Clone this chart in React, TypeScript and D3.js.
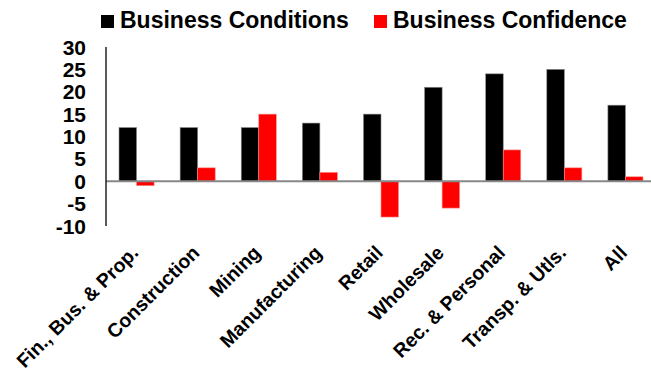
import React from "react";
import * as d3 from "d3";

const categories = [
  "Fin., Bus. & Prop.",
  "Construction",
  "Mining",
  "Manufacturing",
  "Retail",
  "Wholesale",
  "Rec. & Personal",
  "Transp. & Utls.",
  "All",
];
const seriesNames = ["Business Conditions", "Business Confidence"];
const conditions = [12, 12, 12, 13, 15, 21, 24, 25, 17];
const confidence = [-1, 3, 15, 2, -8, -6, 7, 3, 1];
const yTicks = [30, 25, 20, 15, 10, 5, 0, -5, -10];
const colors = ["#000000", "#ff0000"];

const W = 651;
const H = 374;
const FONT = "'Liberation Sans', Arial, Helvetica, sans-serif";

export default function App() {
  const x = d3.scaleBand<string>().domain(categories).range([106, 656]).padding(0);
  const y = d3.scaleLinear().domain([-10, 30]).range([226, 47]);
  const bw = x.bandwidth();
  const barW = bw * 0.287;
  const values = [conditions, confidence];

  return (
    <svg
      width={W}
      height={H}
      style={{ position: "absolute", left: 0, top: 0, background: "#fff" }}
      fontFamily={FONT}
    >
      <rect x={0} y={0} width={W} height={H} fill="#fff" />
      {/* bars */}
      {categories.map((c, i) => {
        const cx = (x(c) as number) + bw / 2;
        const x1 = d3.scaleBand<string>().domain(seriesNames).range([cx - barW, cx + barW]);
        return (
          <g key={c}>
            {seriesNames.map((s, si) => {
              const v = values[si][i];
              const y0 = y(0);
              const yv = y(v);
              return (
                <rect
                  key={s}
                  x={x1(s)}
                  y={Math.min(y0, yv)}
                  width={x1.bandwidth()}
                  height={Math.abs(yv - y0)}
                  fill={colors[si]}
                  stroke={si === 0 ? "#8a8a8a" : "#ff9090"}
                  strokeWidth={0.6}
                />
              );
            })}
          </g>
        );
      })}
      {/* zero line */}
      <line x1={106} x2={656} y1={y(0)} y2={y(0)} stroke="#888" strokeWidth={2} />
      {/* y axis */}
      <line x1={106} x2={106} y1={y(30)} y2={y(-10)} stroke="#222" strokeWidth={1.5} />
      {yTicks.map((t) => (
        <text
          key={t}
          x={86}
          y={y(t)}
          dy="0.36em"
          textAnchor="end"
          fontSize={21}
          fontWeight="bold"
          fill="#000"
        >
          {t}
        </text>
      ))}
      {/* x labels */}
      {categories.map((c) => {
        const cx = (x(c) as number) + bw / 2;
        const ax = cx + 3;
        const ay = 254;
        return (
          <text
            key={c}
            x={ax}
            y={ay}
            textAnchor="end"
            fontSize={19.5}
            fontWeight="bold"
            fill="#000"
            transform={`rotate(-45 ${ax} ${ay})`}
          >
            {c}
          </text>
        );
      })}
      {/* legend */}
      {seriesNames.map((s, si) => {
        const lx = si === 0 ? 101 : 374;
        return (
          <g key={s}>
            <rect x={lx} y={15} width={13} height={13} fill={colors[si]} />
            <text x={lx + 19} y={28} fontSize={23} fontWeight="bold" fill="#000">
              {s}
            </text>
          </g>
        );
      })}
    </svg>
  );
}
